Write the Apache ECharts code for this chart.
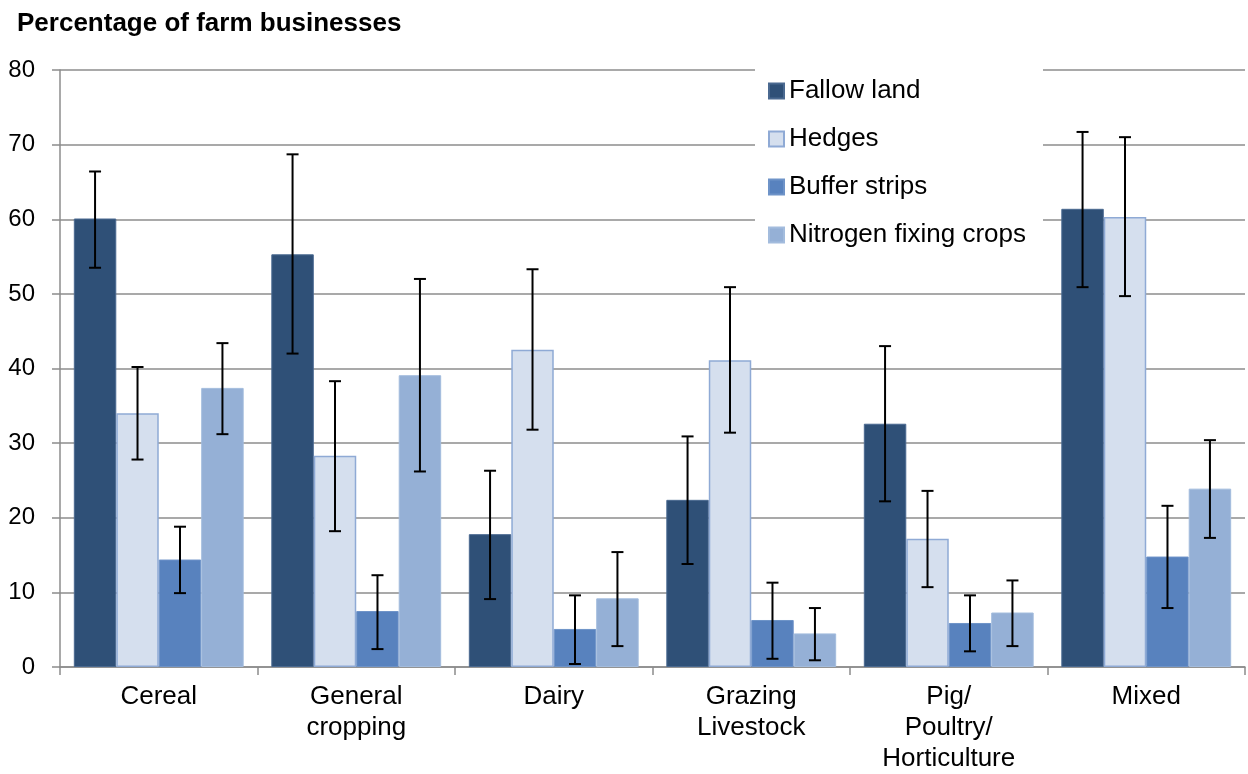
<!DOCTYPE html>
<html>
<head>
<meta charset="utf-8">
<script src="https://cdn.jsdelivr.net/npm/echarts@6/dist/echarts.min.js"></script>
<style>
html,body{margin:0;padding:0;background:#fff;}
#chart{width:1248px;height:774px;}
</style>
</head>
<body>
<div id="chart"></div>
<script>
const categories = ['Cereal', 'General\ncropping', 'Dairy', 'Grazing\nLivestock', 'Pig/\nPoultry/\nHorticulture', 'Mixed'];
const seriesNames = ['Fallow land', 'Hedges', 'Buffer strips', 'Nitrogen fixing crops'];
const yTicks = [0, 10, 20, 30, 40, 50, 60, 70, 80];

const fallow     = [60.1, 55.3, 17.8, 22.4, 32.6, 61.4];
const fallowLow  = [53.5, 42.0,  9.1, 13.8, 22.2, 50.9];
const fallowHigh = [66.4, 68.7, 26.3, 30.9, 43.0, 71.7];

const hedges     = [34.0, 28.3, 42.5, 41.1, 17.2, 60.3];
const hedgesLow  = [27.8, 18.2, 31.8, 31.4, 10.7, 49.7];
const hedgesHigh = [40.2, 38.3, 53.3, 50.9, 23.6, 71.0];

const buffer     = [14.4,  7.5,  5.1,  6.3,  5.9, 14.8];
const bufferLow  = [ 9.9,  2.4,  0.4,  1.1,  2.1,  7.9];
const bufferHigh = [18.8, 12.3,  9.6, 11.3,  9.6, 21.6];

const nitrogen     = [37.4, 39.1,  9.2,  4.5,  7.3, 23.9];
const nitrogenLow  = [31.2, 26.2,  2.8,  0.9,  2.8, 17.3];
const nitrogenHigh = [43.4, 52.0, 15.4,  7.9, 11.6, 30.4];

const values = [fallow, hedges, buffer, nitrogen];
const lows = [fallowLow, hedgesLow, bufferLow, nitrogenLow];
const highs = [fallowHigh, hedgesHigh, bufferHigh, nitrogenHigh];

const fills = ['#2F5077', '#D5DFEE', '#5882BE', '#95B0D6'];
const borders = ['#4A6990', '#8FAAD5', '#6E93C8', '#A3BCDD'];
const borderWidths = [1, 1.5, 1, 1];

const CAT_GAP = 0.14;
const FONT = '"Liberation Sans", Arial, sans-serif';

const chart = echarts.init(document.getElementById('chart'));

const barSeries = seriesNames.map((name, k) => ({
  name: name,
  type: 'bar',
  data: values[k],
  barGap: '0%',
  barCategoryGap: (CAT_GAP * 100) + '%',
  itemStyle: { color: fills[k], borderColor: borders[k], borderWidth: borderWidths[k] },
  z: 2
}));

const errSeries = seriesNames.map((name, k) => ({
  name: name + ' error',
  type: 'custom',
  z: 5,
  encode: { x: 0, y: [1, 2] },
  data: categories.map((c, i) => [i, lows[k][i], highs[k][i]]),
  renderItem: function (params, api) {
    const idx = api.value(0);
    const lo = api.coord([idx, api.value(1)]);
    const hi = api.coord([idx, api.value(2)]);
    const band = api.size([1, 0])[0];
    const bw = band * (1 - CAT_GAP) / 4;
    const cx = lo[0] + (k - 1.5) * bw;
    const cap = 6;
    const style = { stroke: '#000', lineWidth: 2 };
    return {
      type: 'group',
      children: [
        { type: 'line', shape: { x1: cx, y1: lo[1], x2: cx, y2: hi[1] }, style: style },
        { type: 'line', shape: { x1: cx - cap, y1: lo[1], x2: cx + cap, y2: lo[1] }, style: style },
        { type: 'line', shape: { x1: cx - cap, y1: hi[1], x2: cx + cap, y2: hi[1] }, style: style }
      ]
    };
  }
}));

chart.setOption({
  animation: false,
  backgroundColor: '#fff',
  textStyle: { fontFamily: FONT },
  title: {
    text: 'Percentage of farm businesses',
    left: 12, top: 6,
    textStyle: { fontFamily: FONT, fontWeight: 'bold', fontSize: 26, color: '#000' }
  },
  legend: {
    data: seriesNames,
    orient: 'vertical',
    left: 755, top: 69,
    backgroundColor: '#fff',
    padding: [7, 17, 5, 13],
    itemWidth: 15, itemHeight: 15,
    itemGap: 18,
    icon: 'rect',
    textStyle: { fontFamily: FONT, fontSize: 26, color: '#000', lineHeight: 30 },
    z: 10
  },
  grid: { left: 60, right: 3, top: 70, bottom: 106, containLabel: false },
  xAxis: {
    type: 'category',
    data: categories,
    axisLine: { lineStyle: { color: '#8C8C8C', width: 1.5 } },
    axisTick: { show: true, length: 8, lineStyle: { color: '#8C8C8C', width: 1.5 } },
    axisLabel: { fontFamily: FONT, fontSize: 26, color: '#000', lineHeight: 31, margin: 14, interval: 0 }
  },
  yAxis: {
    type: 'value',
    min: yTicks[0], max: yTicks[yTicks.length - 1], interval: 10,
    axisLine: { show: true, lineStyle: { color: '#8C8C8C', width: 1.5 } },
    axisTick: { show: true, length: 8, lineStyle: { color: '#8C8C8C', width: 1.5 } },
    axisLabel: { fontFamily: FONT, fontSize: 24, color: '#000', margin: 25 },
    splitLine: { lineStyle: { color: '#8C8C8C', width: 1.5 } }
  },
  series: barSeries.concat(errSeries)
});
</script>
</body>
</html>
